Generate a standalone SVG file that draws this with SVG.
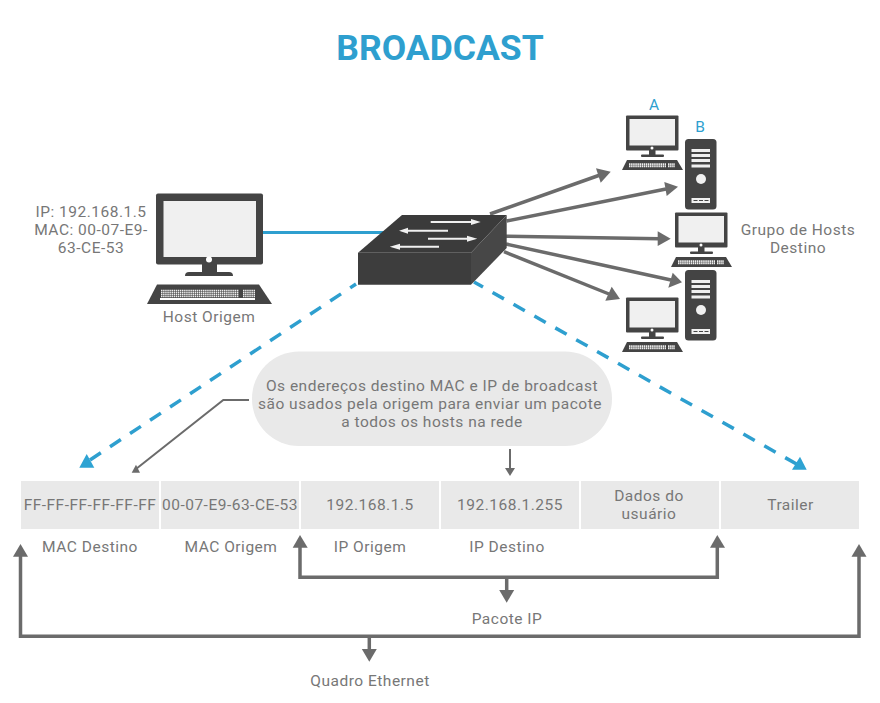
<svg xmlns="http://www.w3.org/2000/svg" width="880" height="703" viewBox="0 0 880 703">
<style>
text{font-family:Roboto,"Liberation Sans",sans-serif;font-size:15.5px;fill:#777;text-anchor:middle;letter-spacing:.5px}
.title{font-size:35.5px;font-weight:700;fill:#2e9fcf;letter-spacing:0}
.ab{fill:#2e9fcf;font-size:15.5px;letter-spacing:0}
.cell{fill:#e9e9e9}
.gray{fill:none;stroke:#6b6b6b;stroke-width:3.500}
.thin{fill:none;stroke:#6b6b6b;stroke-width:2}
.blue{fill:none;stroke:#2e9fcf;stroke-width:3}
.dash{fill:none;stroke:#2e9fcf;stroke-width:3.500;stroke-dasharray:13 11}
.dark{fill:#444}
.arr{fill:#6b6b6b}
.bl{fill:#2ea3d3}
.keys{fill:none;stroke:#eee;stroke-dasharray:1.500 .6}
</style>
<defs>
<g id="pc">
<rect class="dark" x="626" y="115.500" width="52.500" height="35" rx="1"/>
<rect x="629.500" y="119" width="45.500" height="26.500" fill="#f0f0f0"/>
<circle cx="652" cy="148" r="1.500" fill="#fff"/>
<rect class="dark" x="649" y="150" width="6.500" height="5.500"/>
<rect class="dark" x="641" y="154.500" width="23" height="2.500" rx="1"/>
<path class="dark" d="M627 160H677L683 170H622Z"/>
<path class="keys" stroke-width="1.300" d="M629 163.800H666M629 165.200H666M629 166.600H666M668 163.800H675M668 165.200H675M668 166.600H675"/>
</g>
<g id="tower">
<rect class="dark" x="685" y="139" width="31.500" height="70.500" rx="3.500"/>
<g fill="#f0f0f0">
<rect x="691.500" y="149" width="18.500" height="3"/>
<rect x="691.500" y="154" width="18.500" height="3"/>
<rect x="691.500" y="159" width="18.500" height="3"/>
<rect x="691.500" y="164.500" width="18.500" height="3"/>
<circle cx="701" cy="179" r="5"/>
<rect x="691.500" y="198" width="18.500" height="5"/>
</g>
<path d="M693.500 200.500h4m1.500 0h4m1.500 0h4" stroke="#444" stroke-width="1"/>
</g>
</defs>

<text class="title" x="440" y="60">BROADCAST</text>

<g id="connectors">
<path class="blue" d="M262 232.500H385"/>
<path class="gray" d="M490 214L600 175"/><path class="arr" d="M610.700 171.700L596 168.300L600.700 182.700Z"/>
<path class="gray" d="M506.700 221L666 189"/><path class="arr" d="M678 186.700L664.300 182L666.700 196Z"/>
<path class="gray" d="M506 236.300L659 238.700"/><path class="arr" d="M670.700 238.700L657.700 231.300V246Z"/>
<path class="gray" d="M506 244L671 280"/><path class="arr" d="M682 282.300L672.700 272.700L668.300 287.700Z"/>
<path class="gray" d="M504 251.700L609 294"/><path class="arr" d="M620 299L611.700 286.700L605.300 300.700Z"/>
<path class="dash" d="M90 460L356 284"/><path class="bl" d="M79.300 467.700H94.300L86.700 454Z"/>
<path class="dash" stroke-dashoffset="-4" d="M800 466L474 282"/><path class="bl" d="M806.700 469.700H792L800 456.700Z"/>
<path class="thin" d="M249 400H223.300L136 469"/><path class="arr" d="M131.700 472.700H140L136 464.700Z"/>
<path class="thin" d="M510 449V469"/><path class="arr" d="M510 476L505 468H515Z"/>
<path class="gray" d="M300 545V577.300H717.300V545"/><path class="arr" d="M300 535L292.700 547.700H307.700Z"/><path class="arr" d="M717.300 535L710 547.700H725Z"/>
<path class="gray" d="M506.700 577V591"/><path class="arr" d="M506.700 602.700L499.200 590H514.200Z"/>
<path class="gray" d="M20.500 555V636.300H859V555"/><path class="arr" d="M20.500 544L13 556.700H28Z"/><path class="arr" d="M859 544L851.500 556.700H866.500Z"/>
<path class="gray" d="M369.300 636V650"/><path class="arr" d="M369.300 661.700L361.800 649H376.800Z"/>
</g>

<g id="host-origem">
<rect class="dark" x="156" y="193.500" width="107" height="71" rx="2"/>
<rect x="163.500" y="201" width="92.500" height="56" fill="#f0f0f0"/>
<circle cx="209" cy="259.500" r="3" fill="#fff"/>
<rect class="dark" x="202" y="264" width="15" height="9"/>
<path class="dark" d="M189 272H229Q233 272 233 276H185Q185 272 189 272Z"/>
<path class="dark" d="M157 284.500H259L272 304H147Z"/>
<path class="keys" stroke-width="1.500" d="M161 290.500H239M161 292.500H239M161 294.500H239M161 296.500H239M243 290.500H255M243 292.500H255M243 294.500H255M243 296.500H255"/>
<rect x="160" y="298" width="95" height="2" fill="#fff"/>
<text x="209" y="322">Host Origem</text>
<text x="91" y="217">IP: 192.168.1.5</text>
<text x="91" y="235">MAC: 00-07-E9-</text>
<text x="91" y="253">63-CE-53</text>
</g>

<g id="switch">
<path fill="#3d3d3d" d="M358 252.700H471V284.700H358Z"/>
<path fill="#3b3b3b" d="M358 252.700L402 215H506.700L471 252.700Z"/>
<path fill="#474747" d="M471 252.700L506.700 215V248L471 284.700Z"/>
<g fill="#f0f0f0">
<path d="M430.700 221H471V219L480.700 222L471 225V223H430.700Z"/>
<path d="M448 229.700H408V227.700L399 230.700L408 233.700V231.700H448Z"/>
<path d="M428 237.700H467V235.700L477.300 238.700L467 241.700V239.700H428Z"/>
<path d="M439 245.700H400V243.700L389.700 246.700L400 249.700V247.700H439Z"/>
</g>
</g>

<g id="host-a"><use href="#pc"/><text class="ab" x="654" y="110">A</text></g>
<g id="host-b"><use href="#tower"/><text class="ab" x="700" y="132">B</text></g>
<g id="host-c"><use href="#pc" x="49" y="97"/></g>
<g id="host-d"><use href="#tower" y="131"/></g>
<g id="host-e"><use href="#pc" y="182"/></g>
<g id="grupo"><text x="798" y="235">Grupo de Hosts</text><text x="798" y="253">Destino</text></g>

<g id="nota">
<rect x="252" y="351.500" width="360" height="94.500" rx="47" fill="#e9e9e9"/>
<text x="432" y="391">Os endereços destino MAC e IP de broadcast</text>
<text x="430" y="409">são usados pela origem para enviar um pacote</text>
<text x="432" y="427">a todos os hosts na rede</text>
</g>

<g id="quadro">
<rect class="cell" x="21" y="481" width="138" height="48"/>
<rect class="cell" x="161" y="481" width="138" height="48"/>
<rect class="cell" x="301" y="481" width="138" height="48"/>
<rect class="cell" x="441" y="481" width="138" height="48"/>
<rect class="cell" x="581" y="481" width="138" height="48"/>
<rect class="cell" x="721" y="481" width="138" height="48"/>
<text x="90" y="510">FF-FF-FF-FF-FF-FF</text>
<text x="230" y="510">00-07-E9-63-CE-53</text>
<text x="370" y="510">192.168.1.5</text>
<text x="510" y="510">192.168.1.255</text>
<text x="649" y="501">Dados do</text>
<text x="649" y="519">usuário</text>
<text x="790.500" y="510">Trailer</text>
<text x="90" y="552">MAC Destino</text>
<text x="231" y="552">MAC Origem</text>
<text x="370" y="552">IP Origem</text>
<text x="507" y="552">IP Destino</text>
<text x="507" y="624">Pacote IP</text>
<text x="370" y="686">Quadro Ethernet</text>
</g>
</svg>
